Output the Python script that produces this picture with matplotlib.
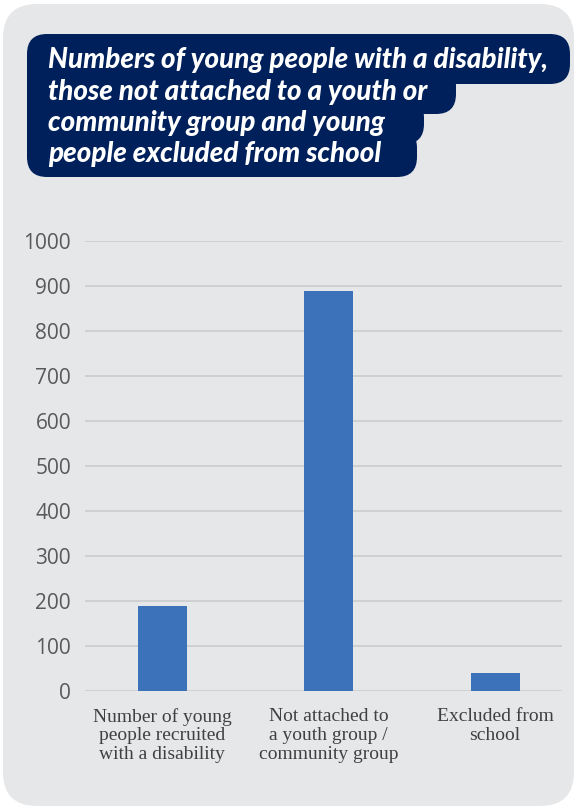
import matplotlib.pyplot as plt
from matplotlib.patches import FancyBboxPatch

# data
categories = ['Number of young\npeople recruited\nwith a disability',
              'Not attached to\na youth group /\ncommunity group',
              'Excluded from\nschool']
values = [190, 890, 40]
yticks = [0, 100, 200, 300, 400, 500, 600, 700, 800, 900, 1000]
title_lines = ['Numbers of young people with a disability,',
               'those not attached to a youth or',
               'community group and young',
               'people excluded from school']

W, H = 578, 809
fig = plt.figure(figsize=(W / 100, H / 100), dpi=100)
fig.patch.set_facecolor('white')

# overlay axes in pixel coords (y down) for panel + title
bg = fig.add_axes([0, 0, 1, 1], zorder=0)
bg.set_xlim(0, W)
bg.set_ylim(H, 0)
bg.axis('off')

bg.add_patch(FancyBboxPatch((3, 4), 571, 802, boxstyle='round,pad=0,rounding_size=34',
                            fc='#e6e7e9', ec='none'))

navy = '#00205b'
# left block, then one rounded box per title line (right ends follow the text)
bg.add_patch(FancyBboxPatch((27, 34), 300, 143, boxstyle='round,pad=0,rounding_size=20',
                            fc=navy, ec='none'))
boxes = [(150, 34, 570, 84), (150, 66, 456, 114), (150, 98, 424, 144), (150, 128, 417, 177)]
for x0, y0, x1, y1 in boxes:
    bg.add_patch(FancyBboxPatch((x0, y0), x1 - x0, y1 - y0,
                                boxstyle='round,pad=0,rounding_size=20',
                                fc=navy, ec='none'))
baselines = [68, 100, 131, 162]
for line, yb in zip(title_lines, baselines):
    bg.text(48, yb, line, color='white', fontsize=20, fontweight='black',
            style='italic', family='Lato', ha='left', va='baseline')

# chart axes
ax = fig.add_axes([85 / W, 118 / H, 477 / W, 450 / H], zorder=1)
ax.set_facecolor('none')
x = list(range(len(categories)))
ax.bar(x, values, width=0.294, color='#3b72b9', zorder=3)

ax.set_xlim(-0.464, 2.402)
ax.set_ylim(0, 1000)
ax.set_yticks(yticks)
ax.set_yticklabels([str(v) for v in yticks], family='Open Sans', fontsize=15, color='#595959')
ax.set_xticks(x)
ax.set_xticklabels(categories, family='Liberation Serif', fontsize=14, color='#404040',
                   linespacing=1.15)
ax.tick_params(axis='y', length=0, pad=10)
ax.tick_params(axis='x', length=0, pad=12)
ax.grid(axis='y', color='#cfd0d2', linewidth=1.4, zorder=0)
for s in ax.spines.values():
    s.set_visible(False)

fig.savefig('out.png', dpi=100)
